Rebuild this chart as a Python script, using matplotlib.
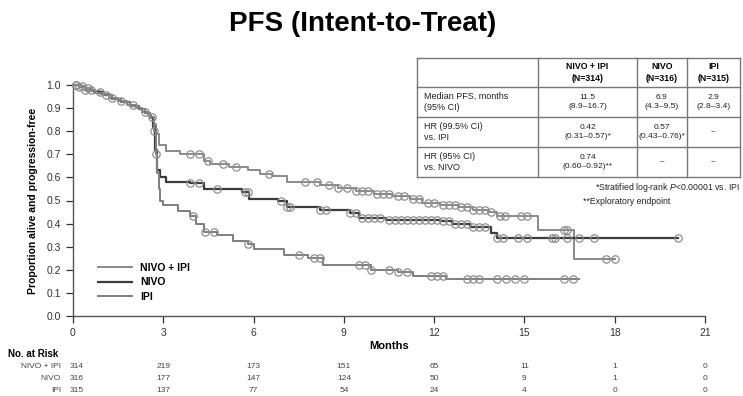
import numpy as np
import matplotlib
matplotlib.use('Agg')
from matplotlib import pyplot as plt
from matplotlib.transforms import blended_transform_factory

plt.rcParams['font.family'] = ['Liberation Sans', 'DejaVu Sans']
plt.rcParams['mathtext.fontset'] = 'custom'
plt.rcParams['mathtext.it'] = 'Liberation Sans:italic'
plt.rcParams['mathtext.rm'] = 'Liberation Sans'

# Kaplan-Meier steps (months, proportion)
combo_t = [0, 0.2, 0.4, 0.6, 0.9, 1.2, 1.5, 1.8, 2.1, 2.3, 2.5, 2.6, 2.7, 2.75, 2.85, 3.1, 3.55,
           4.35, 4.55, 5.2, 5.8, 6.2, 6.6, 7.1, 8.2, 8.8, 9.4, 10.0, 10.6, 11.2, 11.6, 12.2, 12.8,
           13.3, 13.8, 14.1, 15.45, 16.65]
combo_s = [1.0, 0.995, 0.985, 0.975, 0.96, 0.945, 0.93, 0.915, 0.9, 0.885, 0.87, 0.855, 0.83, 0.79,
           0.74, 0.715, 0.70, 0.67, 0.66, 0.645, 0.63, 0.615, 0.605, 0.58, 0.567, 0.555, 0.54, 0.53,
           0.52, 0.505, 0.49, 0.48, 0.47, 0.46, 0.45, 0.433, 0.372, 0.247]
combo_end = 18.0
combo_cens = [0.1, 0.3, 0.5, 1.3, 1.6, 2.0, 2.4, 3.9, 4.2, 4.5, 5.0, 5.4, 6.5, 7.7, 8.1, 8.5, 8.8,
              9.1, 9.4, 9.6, 9.8, 10.1, 10.3, 10.5, 10.8, 11.0, 11.3, 11.5, 11.8, 12.0, 12.3, 12.5,
              12.7, 12.9, 13.1, 13.3, 13.5, 13.7, 13.9, 14.2, 14.35, 14.9, 15.1, 16.3, 16.4, 17.7,
              18.0]

nivo_t = [0, 0.2, 0.4, 0.7, 1.0, 1.3, 1.6, 1.9, 2.2, 2.4, 2.55, 2.65, 2.72, 2.8, 2.9, 3.1, 3.9,
          4.35, 5.6, 5.85, 6.8, 7.1, 8.2, 9.2, 9.5, 10.4, 12.2, 12.6, 13.2, 13.9, 14.1]
nivo_s = [1.0, 0.99, 0.98, 0.97, 0.955, 0.94, 0.925, 0.91, 0.895, 0.88, 0.86, 0.82, 0.72, 0.63,
          0.6, 0.58, 0.575, 0.55, 0.535, 0.507, 0.5, 0.473, 0.459, 0.445, 0.424, 0.416, 0.41, 0.40,
          0.387, 0.36, 0.337]
nivo_end = 20.1
nivo_cens = [0.1, 0.4, 0.9, 3.9, 4.2, 4.8, 5.7, 5.8, 6.9, 7.1, 7.2, 8.2, 8.4, 9.2, 9.4, 9.6, 9.8,
             10.0, 10.2, 10.5, 10.7, 10.9, 11.1, 11.3, 11.5, 11.7, 11.9, 12.1, 12.3, 12.5, 12.7,
             12.9, 13.1, 13.3, 13.5, 13.7, 14.1, 14.3, 14.8, 15.1, 15.9, 16.0, 16.4, 16.8, 17.3,
             20.1]

ipi_t = [0, 0.2, 0.4, 0.7, 1.0, 1.3, 1.6, 1.9, 2.2, 2.4, 2.55, 2.68, 2.75, 2.8, 2.85, 2.9, 3.0,
         3.5, 3.9, 4.1, 4.35, 4.8, 5.3, 5.8, 6.0, 7.0, 7.8, 8.3, 9.9, 10.8, 11.3, 12.4]
ipi_s = [1.0, 0.99, 0.98, 0.965, 0.955, 0.94, 0.925, 0.91, 0.895, 0.88, 0.86, 0.8, 0.7, 0.62,
         0.55, 0.5, 0.48, 0.455, 0.435, 0.40, 0.365, 0.35, 0.326, 0.31, 0.29, 0.264, 0.25, 0.22,
         0.20, 0.19, 0.175, 0.16]
ipi_end = 16.8
ipi_cens = [0.2, 0.6, 1.1, 2.62, 2.7, 2.76, 4.0, 4.4, 4.7, 5.8, 7.5, 8.0, 8.2, 9.5, 9.7, 9.9,
            10.5, 10.8, 11.1, 11.9, 12.1, 12.3, 13.1, 13.3, 13.5, 14.1, 14.4, 14.7, 15.0, 16.3,
            16.6]

months = [0, 3, 6, 9, 12, 15, 18, 21]
risk_labels = ['NIVO + IPI', 'NIVO', 'IPI']
risk_combo = [314, 219, 173, 151, 65, 11, 1, 0]
risk_nivo = [316, 177, 147, 124, 50, 9, 1, 0]
risk_ipi = [315, 137, 77, 54, 24, 4, 0, 0]

tbl_header = ['NIVO + IPI\n(N=314)', 'NIVO\n(N=316)', 'IPI\n(N=315)']
tbl_rows = [
    ['Median PFS, months\n(95% CI)', '11.5\n(8.9\u201316.7)', '6.9\n(4.3\u20139.5)', '2.9\n(2.8\u20133.4)'],
    ['HR (99.5% CI)\nvs. IPI', '0.42\n(0.31\u20130.57)*', '0.57\n(0.43\u20130.76)*', '--'],
    ['HR (95% CI)\nvs. NIVO', '0.74\n(0.60\u20130.92)**', '--', '--'],
]

W, H = 743, 396
fig = plt.figure(figsize=(W / 100, H / 100), dpi=100)
ax = fig.add_axes([73 / W, (H - 316) / H, 632 / W, 231 / H])


def km(t, s, end, cens, color, label, lw=1.4):
    tt = list(t) + [end]
    ss = list(s) + [s[-1]]
    ax.plot(tt, ss, drawstyle='steps-post', color=color, lw=lw, label=label, clip_on=False, zorder=3)
    idx = np.searchsorted(t, cens, side='right') - 1
    ax.plot(cens, np.array(s)[idx], 'o', ms=5.3, mfc='none', mec='#8e8e8e', mew=0.9,
            clip_on=False, zorder=4)


km(combo_t, combo_s, combo_end, combo_cens, '#8a8a8a', 'NIVO + IPI')
km(nivo_t, nivo_s, nivo_end, nivo_cens, '#3c3c3c', 'NIVO', lw=1.6)
km(ipi_t, ipi_s, ipi_end, ipi_cens, '#7e7e7e', 'IPI')

ax.set_xlim(0, 21)
ax.set_ylim(0, 1.0)
ax.set_xticks(months)
ax.set_yticks(np.arange(0, 1.01, 0.1))
ax.set_yticklabels(['%.1f' % v for v in np.arange(0, 1.01, 0.1)])
ax.tick_params(axis='both', labelsize=7.5, colors='#333333', length=5, width=0.9, direction='out')
ax.tick_params(axis='x', pad=4)
for sp in ['top', 'right']:
    ax.spines[sp].set_visible(False)
for sp in ['left', 'bottom']:
    ax.spines[sp].set_color('#555555')
    ax.spines[sp].set_linewidth(1.0)
ax.set_ylabel('Proportion alive and progression-free', fontsize=7.5, fontweight='bold', labelpad=6)
ax.set_xlabel('Months', fontsize=8, fontweight='bold', labelpad=2)

leg = ax.legend(loc='lower left', bbox_to_anchor=(0.025, 0.02), frameon=False, handlelength=3.2,
                labelspacing=0.45, prop={'size': 7.5, 'weight': 'bold'})

# number at risk
tr = blended_transform_factory(ax.transData, fig.transFigure)
fig.text(8 / W, 1 - 354 / H, 'No. at Risk', fontsize=7, fontweight='bold', va='center')
for i, (lab, vals) in enumerate(zip(risk_labels, [risk_combo, risk_nivo, risk_ipi])):
    yy = 1 - (366 + 12 * i) / H
    fig.text(61 / W, yy, lab, fontsize=6, ha='right', va='center', color='#444444')
    for m, v in zip(months, vals):
        ax.text(m + (0.12 if m == 0 else 0), yy, str(v), transform=tr, fontsize=6,
                ha='center', va='center', color='#444444')

# title
fig.text(363 / W, 1 - 24 / H, 'PFS (Intent-to-Treat)', fontsize=20, fontweight='bold',
         ha='center', va='center')

# summary table in pixel coordinates
ov = fig.add_axes([0, 0, 1, 1], zorder=5)
ov.set_xlim(0, W)
ov.set_ylim(H, 0)
ov.axis('off')
ov.patch.set_alpha(0)
cols = [417, 538, 637, 687, 740]
rows = [58, 87, 117, 147, 177]
ov.fill_between([cols[0], cols[-1]], rows[0], rows[-1], color='white', zorder=1)
for x in cols:
    ov.plot([x, x], [rows[0], rows[-1]], color='#777777', lw=1.0, zorder=2)
for y in rows:
    ov.plot([cols[0], cols[-1]], [y, y], color='#777777', lw=1.0, zorder=2)
for j, txt in enumerate(tbl_header):
    ov.text((cols[j + 1] + cols[j + 2]) / 2, (rows[0] + rows[1]) / 2, txt, fontsize=6.3,
            fontweight='bold', ha='center', va='center', linespacing=1.4, zorder=3)
for i, r in enumerate(tbl_rows):
    yc = (rows[i + 1] + rows[i + 2]) / 2
    ov.text(cols[0] + 7, yc, r[0], fontsize=6.5, ha='left', va='center', linespacing=1.35,
            color='#222222', zorder=3)
    for j in range(1, 4):
        ov.text((cols[j] + cols[j + 1]) / 2, yc, r[j], fontsize=6.1, ha='center', va='center',
                linespacing=1.4, color='#222222', zorder=3)

ov.text(740, 188, '*Stratified log-rank $\\it{P}$<0.00001 vs. IPI', fontsize=6.3, ha='right',
        va='center', color='#222222')
ov.text(583, 201, '**Exploratory endpoint', fontsize=6.3, ha='left', va='center', color='#222222')

fig.savefig('out.png', dpi=100)
